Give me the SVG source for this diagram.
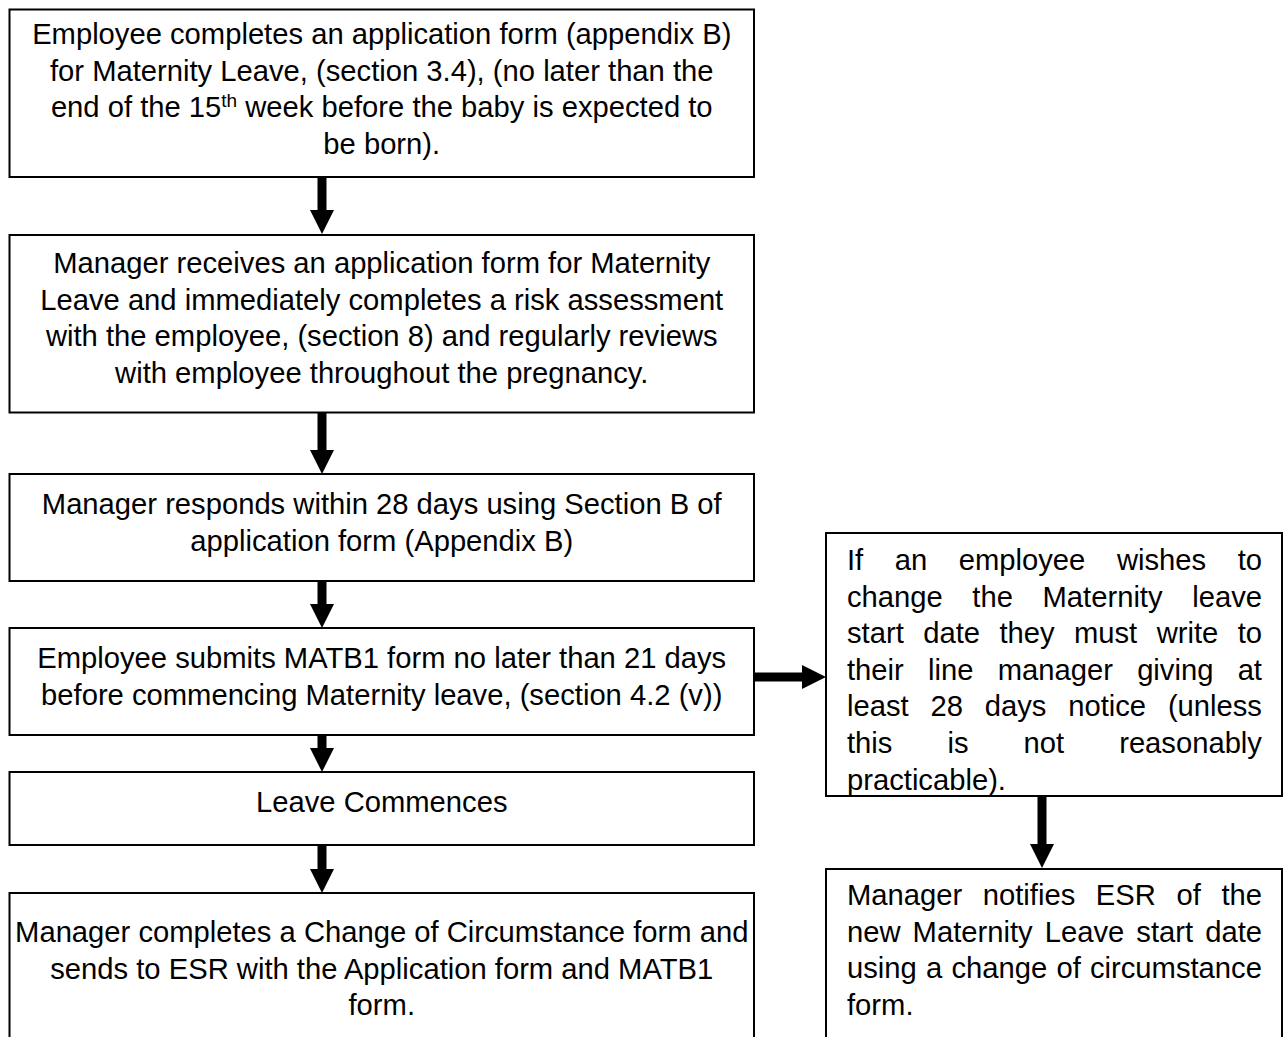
<svg xmlns="http://www.w3.org/2000/svg" width="1283" height="1037" viewBox="0 0 1283 1037">
  <style>
    .box { fill: #ffffff; stroke: #000000; stroke-width: 2; }
    .txt { font-family: "Liberation Sans", Arial, sans-serif; font-size: 29.2px; fill: #000000; }
    .mid { text-anchor: middle; }
    .sup { font-size: 19px; }
    .flow { stroke: #000000; stroke-width: 9; fill: none; marker-end: url(#head); }
  </style>
  <defs>
    <marker id="head" markerUnits="userSpaceOnUse" markerWidth="26" markerHeight="26" viewBox="0 -13 26 26" refX="0" refY="0" orient="auto">
      <path d="M0,-12 L24,0 L0,12 Z" fill="#000000"/>
    </marker>
  </defs>
  <rect width="1283" height="1037" fill="#ffffff"/>

  <!-- flow arrows -->
  <g id="connectors">
    <line class="flow" x1="322" y1="178" x2="322" y2="210"/>
    <line class="flow" x1="322" y1="413" x2="322" y2="450"/>
    <line class="flow" x1="322" y1="582" x2="322" y2="604"/>
    <line class="flow" x1="322" y1="736" x2="322" y2="748"/>
    <line class="flow" x1="322" y1="846" x2="322" y2="869"/>
    <line class="flow" x1="755" y1="677" x2="802" y2="677"/>
    <line class="flow" x1="1042" y1="797" x2="1042" y2="844"/>
  </g>

  <g id="apply">
    <rect class="box" x="9.5" y="9.5" width="744.5" height="167.5"/>
    <text class="txt mid" x="381.75" y="44">Employee completes an application form (appendix B)</text>
    <text class="txt mid" x="381.75" y="80.6">for Maternity Leave, (section 3.4), (no later than the</text>
    <text class="txt mid" x="381.75" y="117.2">end of the 15<tspan class="sup" dy="-10">th</tspan><tspan dy="10"> week before the baby is expected to</tspan></text>
    <text class="txt mid" x="381.75" y="153.8">be born).</text>
  </g>

  <g id="risk-assessment">
    <rect class="box" x="9.5" y="235" width="744.5" height="177.5"/>
    <text class="txt mid" x="381.75" y="273">Manager receives an application form for Maternity</text>
    <text class="txt mid" x="381.75" y="309.6">Leave and immediately completes a risk assessment</text>
    <text class="txt mid" x="381.75" y="346.2">with the employee, (section 8) and regularly reviews</text>
    <text class="txt mid" x="381.75" y="382.8">with employee throughout the pregnancy.</text>
  </g>

  <g id="manager-response">
    <rect class="box" x="9.5" y="474" width="744.5" height="107"/>
    <text class="txt mid" x="381.75" y="514">Manager responds within 28 days using Section B of</text>
    <text class="txt mid" x="381.75" y="550.6">application form (Appendix B)</text>
  </g>

  <g id="matb1">
    <rect class="box" x="9.5" y="628" width="744.5" height="107"/>
    <text class="txt mid" x="381.75" y="668">Employee submits MATB1 form no later than 21 days</text>
    <text class="txt mid" x="381.75" y="704.6">before commencing Maternity leave, (section 4.2 (v))</text>
  </g>

  <g id="leave-commences">
    <rect class="box" x="9.5" y="772" width="744.5" height="73"/>
    <text class="txt mid" x="381.75" y="812">Leave Commences</text>
  </g>

  <g id="change-of-circumstance">
    <rect class="box" x="9.5" y="893" width="744.5" height="160"/>
    <text class="txt mid" x="381.75" y="942">Manager completes a Change of Circumstance form and</text>
    <text class="txt mid" x="381.75" y="978.6">sends to ESR with the Application form and MATB1</text>
    <text class="txt mid" x="381.75" y="1015.2">form.</text>
  </g>

  <!-- justified paragraph: words placed individually -->
  <g id="change-start-date">
    <rect class="box" x="826" y="533" width="456" height="263"/>
    <text class="txt" y="570"><tspan x="847">If</tspan><tspan x="894.77">an</tspan><tspan x="958.77">employee</tspan><tspan x="1116.88">wishes</tspan><tspan x="1237.65">to</tspan></text>
    <text class="txt" y="606.6"><tspan x="847">change</tspan><tspan x="972.37">the</tspan><tspan x="1042.55">Maternity</tspan><tspan x="1192.21">leave</tspan></text>
    <text class="txt" y="643.2"><tspan x="847">start</tspan><tspan x="923.18">date</tspan><tspan x="999.39">they</tspan><tspan x="1073.97">must</tspan><tspan x="1156.64">write</tspan><tspan x="1237.67">to</tspan></text>
    <text class="txt" y="679.8"><tspan x="847">their</tspan><tspan x="928.02">line</tspan><tspan x="997.69">manager</tspan><tspan x="1137.14">giving</tspan><tspan x="1237.64">at</tspan></text>
    <text class="txt" y="716.4"><tspan x="847">least</tspan><tspan x="930.46">28</tspan><tspan x="984.72">days</tspan><tspan x="1068.18">notice</tspan><tspan x="1167.88">(unless</tspan></text>
    <text class="txt" y="753"><tspan x="847">this</tspan><tspan x="947.46">is</tspan><tspan x="1023.56">not</tspan><tspan x="1119.17">reasonably</tspan></text>
    <text class="txt" x="847" y="789.6">practicable).</text>
  </g>

  <g id="notify-esr">
    <rect class="box" x="826" y="869" width="456" height="184"/>
    <text class="txt" y="905"><tspan x="847">Manager</tspan><tspan x="982.79">notifies</tspan><tspan x="1095.87">ESR</tspan><tspan x="1176.48">of</tspan><tspan x="1221.4">the</tspan></text>
    <text class="txt" y="941.6"><tspan x="847">new</tspan><tspan x="912.61">Maternity</tspan><tspan x="1044.74">Leave</tspan><tspan x="1136.34">start</tspan><tspan x="1205.19">date</tspan></text>
    <text class="txt" x="847" y="978.2" word-spacing="1.1">using a change of circumstance</text>
    <text class="txt" x="847" y="1014.8">form.</text>
  </g>
</svg>
